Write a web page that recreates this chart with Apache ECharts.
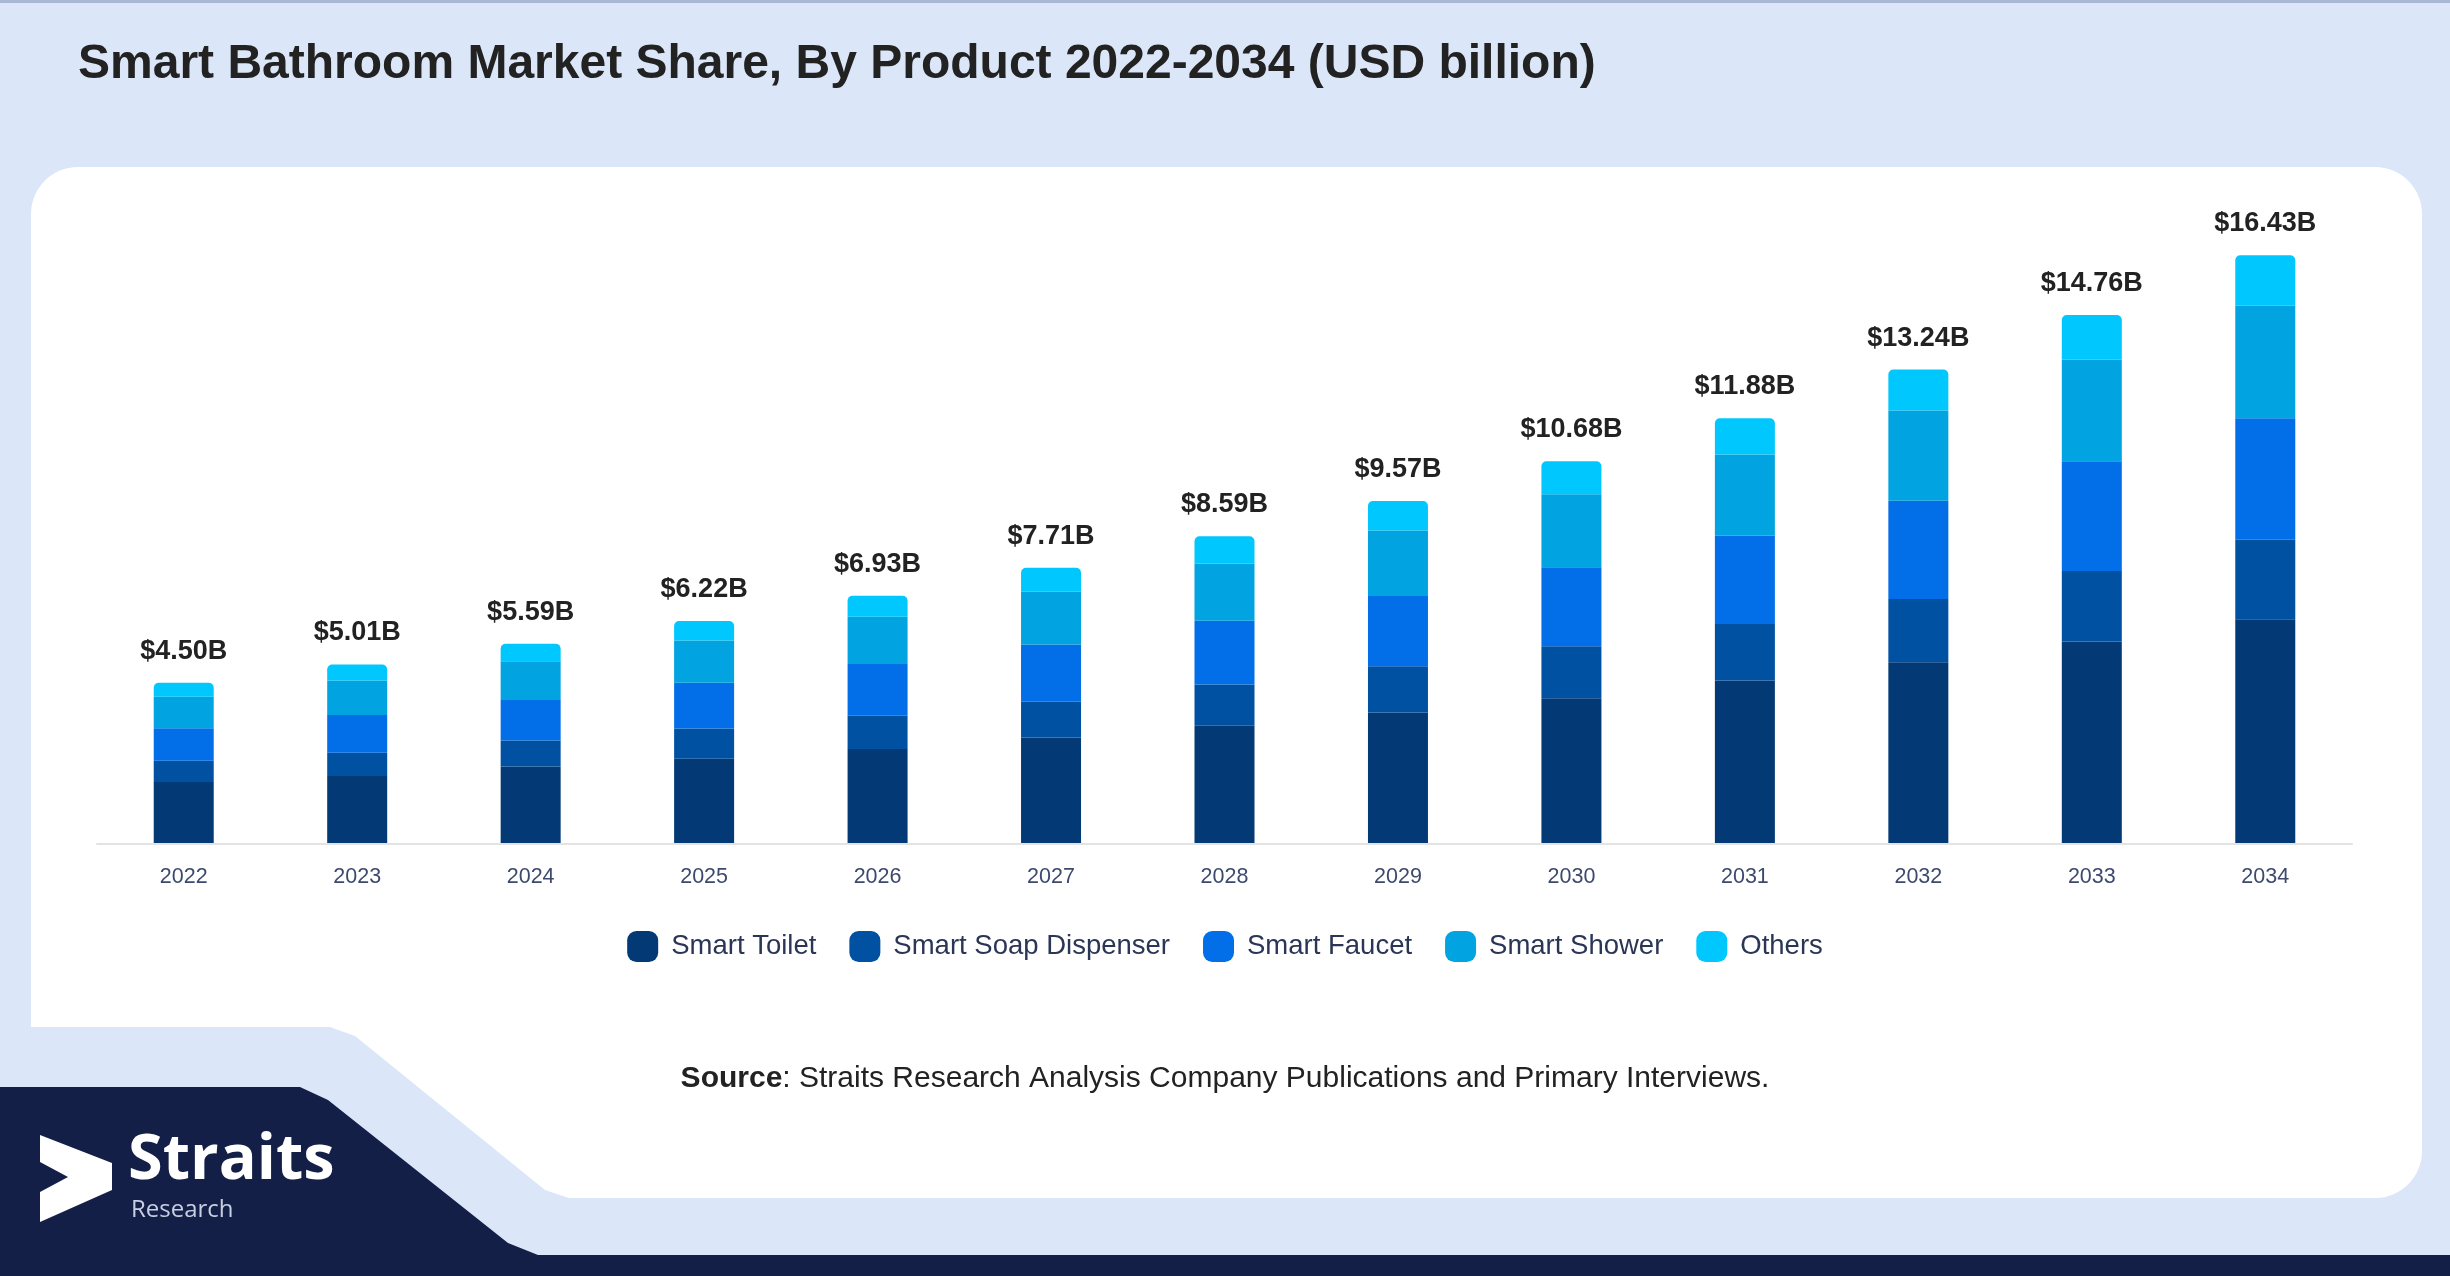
<!DOCTYPE html>
<html>
<head>
<meta charset="utf-8">
<script src="https://cdn.jsdelivr.net/npm/echarts@6/dist/echarts.min.js"></script>
<style>
html,body{margin:0;padding:0;background:#dbe7f8;}
#chart{width:2450px;height:1276px;}
</style>
</head>
<body>
<div id="chart"></div>
<script>
var years = ['2022','2023','2024','2025','2026','2027','2028','2029','2030','2031','2032','2033','2034'];
var smartToilet = [1.73,1.90,2.16,2.38,2.65,2.97,3.30,3.67,4.07,4.56,5.07,5.65,6.27];
var smartSoapDispenser = [0.59,0.65,0.73,0.84,0.93,1.00,1.15,1.29,1.45,1.58,1.77,1.97,2.22];
var smartFaucet = [0.91,1.05,1.13,1.28,1.44,1.60,1.78,1.96,2.20,2.46,2.74,3.06,3.39];
var smartShower = [0.88,0.96,1.08,1.18,1.32,1.47,1.60,1.83,2.04,2.27,2.52,2.84,3.14];
var others = [0.39,0.45,0.49,0.54,0.59,0.67,0.76,0.82,0.92,1.01,1.14,1.24,1.41];
var totalLabels = ['$4.50B','$5.01B','$5.59B','$6.22B','$6.93B','$7.71B','$8.59B','$9.57B','$10.68B','$11.88B','$13.24B','$14.76B','$16.43B'];
var seriesNames = ['Smart Toilet','Smart Soap Dispenser','Smart Faucet','Smart Shower','Others'];
var seriesColors = ['#033a75','#0151a3','#026ee8','#01a4e1','#00c8fe'];

var chart = echarts.init(document.getElementById('chart'));
var iconPath = 'path://M3,0 L7,0 A3,3 0 0 1 10,3 L10,7 A3,3 0 0 1 7,10 L3,10 A3,3 0 0 1 0,7 L0,3 A3,3 0 0 1 3,0 Z';
var dataSets = [smartToilet, smartSoapDispenser, smartFaucet, smartShower, others];
var series = dataSets.map(function(d, i){
  var s = {
    name: seriesNames[i],
    type: 'bar',
    stack: 'total',
    barWidth: 60,
    data: d,
    itemStyle: {color: seriesColors[i]}
  };
  if (i === dataSets.length - 1) {
    s.itemStyle.borderRadius = [5,5,0,0];
    s.label = {
      show: true,
      position: 'top',
      distance: 18,
      fontFamily: 'Liberation Sans',
      fontWeight: 'bold',
      fontSize: 27,
      color: '#222222',
      formatter: function(p){ return totalLabels[p.dataIndex]; }
    };
  }
  return s;
});

var option = {
  backgroundColor: '#dbe7f8',
  animation: false,
  title: {
    text: 'Smart Bathroom Market Share, By Product 2022-2034 (USD billion)',
    left: 73,
    top: 36,
    textStyle: {fontFamily: 'Liberation Sans', fontWeight: 'bold', fontSize: 48, color: '#222222'}
  },
  graphic: [
    {type:'rect', z:-1, shape:{x:0,y:0,width:2450,height:3}, style:{fill:'#a9b8d4'}},
    {type:'rect', z:-1, shape:{x:31,y:167,width:2391,height:1031,r:[47,47,47,47]}, style:{fill:'#ffffff'}},
    {type:'polygon', z:-1, shape:{points:[[0,1027],[75,1027],[330,1027],[355,1036],[545,1190],[575,1200],[575,1276],[0,1276]]}, style:{fill:'#dbe7f8'}},
    {type:'rect', z:-1, shape:{x:31,y:980,width:100,height:47,r:[0,0,0,40]}, style:{fill:'#ffffff'}},
    {type:'polygon', z:-1, shape:{points:[[0,1087],[300,1087],[328,1100],[508,1243],[538,1255],[2450,1255],[2450,1276],[0,1276]]}, style:{fill:'#131f47'}},
    {type:'polygon', z:-1, shape:{points:[[40,1135],[112,1163],[112,1190],[40,1222],[40,1192],[68,1177],[40,1162]]}, style:{fill:'#ffffff'}},
    {type:'text', z:-1, left:128, top:1130, style:{text:'Straits', fontFamily:'Open Sans', fontWeight:'bold', fontSize:63, fill:'#ffffff'}},
    {type:'text', z:-1, left:131, top:1198, style:{text:'Research', fontFamily:'Open Sans', fontSize:24, fill:'#c8cfe2'}},
    {type:'text', left:'center', top:1064, style:{
      text:'{b|Source}: Straits Research Analysis Company Publications and Primary Interviews.',
      rich:{b:{fontFamily:'Liberation Sans', fontWeight:'bold', fontSize:30, fill:'#222222'}},
      fontFamily:'Liberation Sans', fontSize:30, fill:'#222222'}}
  ],
  legend: {
    data: seriesNames,
    left: 'center',
    top: 926,
    icon: iconPath,
    itemWidth: 31,
    itemHeight: 31,
    itemGap: 33,
    textStyle: {fontFamily: 'Liberation Sans', fontSize: 27.5, color: '#2b3656', padding:[0,0,0,8]}
  },
  grid: {left: 97, right: 98, top: 199, bottom: 432, containLabel: false},
  xAxis: {
    type: 'category',
    data: years,
    z: 3,
    axisLine: {lineStyle: {color: '#e3e3e3', width: 2}},
    axisTick: {show: false},
    axisLabel: {fontFamily: 'Liberation Sans', fontSize: 21.5, color: '#3d4a6e', margin: 22}
  },
  yAxis: {
    type: 'value',
    min: 0,
    max: 18,
    show: false,
    splitLine: {show: false}
  },
  series: series
};
chart.setOption(option);
</script>
</body>
</html>
